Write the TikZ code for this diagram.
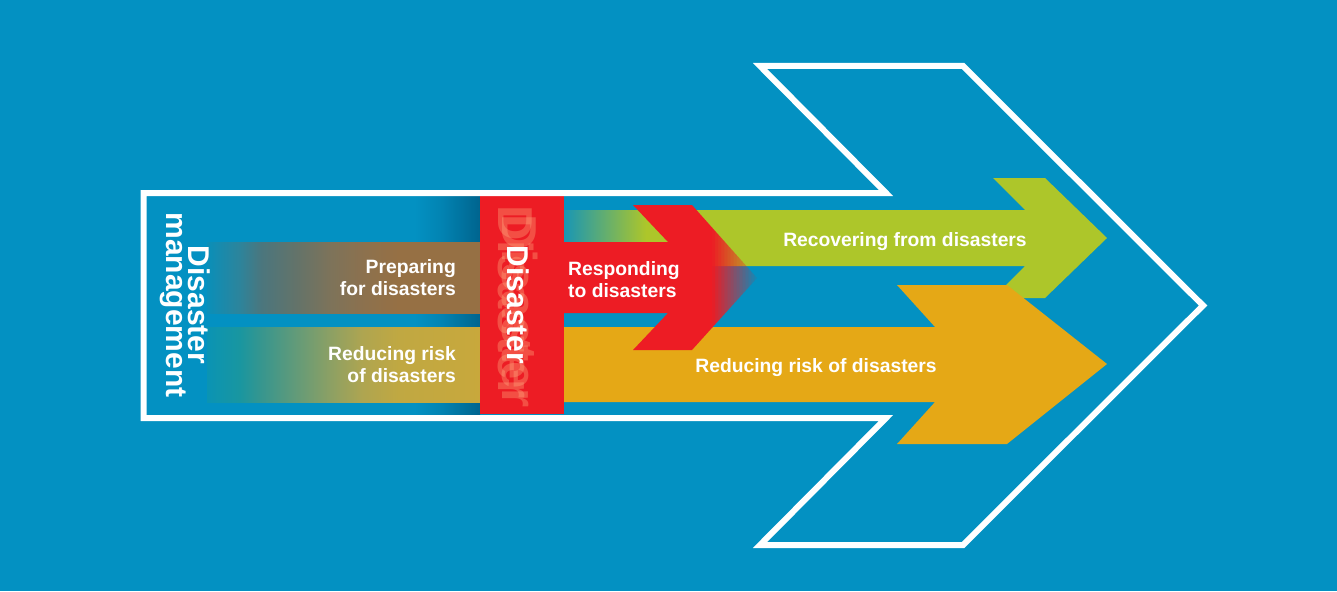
\documentclass[tikz,border=0pt]{standalone}
\usepackage{fontspec}
\setmainfont{Liberation Sans}
\definecolor{bg}{RGB}{3,145,194}
\definecolor{redc}{RGB}{237,28,36}
\definecolor{ghostc}{RGB}{255,175,130}
\definecolor{greenc}{RGB}{173,198,42}
\definecolor{greenfade}{RGB}{25,150,180}
\definecolor{orangec}{RGB}{229,168,22}
\definecolor{shadowc}{RGB}{0,100,142}
\definecolor{pa}{RGB}{10,143,185}
\definecolor{pb}{RGB}{45,132,155}
\definecolor{pc}{RGB}{75,118,125}
\definecolor{pd}{RGB}{100,115,105}
\definecolor{pe}{RGB}{125,115,90}
\definecolor{pf}{RGB}{140,113,78}
\definecolor{pg}{RGB}{150,112,68}
\definecolor{ra}{RGB}{10,148,180}
\definecolor{rb}{RGB}{25,150,160}
\definecolor{rc}{RGB}{55,150,142}
\definecolor{rd}{RGB}{100,155,120}
\definecolor{re}{RGB}{140,160,100}
\definecolor{rf}{RGB}{175,165,80}
\definecolor{rg}{RGB}{192,168,66}
\definecolor{rh}{RGB}{200,168,60}
\pgfdeclarehorizontalshading{prepshade}{100bp}{color(0bp)=(pa); color(25bp)=(pa); color(31bp)=(pb); color(35bp)=(pc); color(41.5bp)=(pd); color(47.5bp)=(pe); color(53.6bp)=(pf); color(60bp)=(pg); color(100bp)=(pg)}
\pgfdeclarehorizontalshading{redushade}{100bp}{color(0bp)=(ra); color(25bp)=(ra); color(31bp)=(rb); color(35bp)=(rc); color(41.5bp)=(rd); color(47.5bp)=(re); color(53.6bp)=(rf); color(60bp)=(rg); color(75bp)=(rh); color(100bp)=(rh)}
\pgfdeclarehorizontalshading{shadowshade}{100bp}{color(0bp)=(bg); color(25bp)=(bg); color(45bp)=(bg!70!shadowc); color(75bp)=(shadowc); color(100bp)=(shadowc)}
\tikzset{
  lbl/.style={text=white, inner sep=0pt, font=\fontsize{19.3}{22}\selectfont\bfseries},
  vlbl/.style={text=white, inner sep=0pt, rotate=-90, anchor=base, font=\fontsize{30}{30}\selectfont\bfseries},
  ghost/.style={text=ghostc, opacity=0.35, inner sep=0pt, rotate=-90, anchor=base, font=\fontsize{49}{49}\selectfont\bfseries},
  outline/.style={draw=white, line width=6pt, miter limit=10}
}
\begin{document}
\begin{tikzpicture}[x=1pt,y=-1pt]
\fill[bg] (0,0) rectangle (1337,591);
\useasboundingbox (0,0) rectangle (1337,591);
% shadow next to red bar
\shade[shading=shadowshade] (415,196) rectangle (480,414);
% left bands
\shade[shading=prepshade] (207,242) rectangle (480,313);
\shade[shading=redushade] (207,327) rectangle (480,402);
% green arrow
\fill[greenc] (564,210) -- (1025,210) -- (993,178) -- (1045,178) -- (1107,238) -- (1045,298) -- (993,298) -- (1025,266) -- (564,266) -- cycle;
\shade[left color=greenfade, right color=greenc] (564,210) rectangle (646,266);
% orange arrow
\fill[orangec] (564,327) -- (935,327) -- (897,285) -- (1007,285) -- (1107,364) -- (1007,444) -- (897,444) -- (935,402) -- (564,402) -- cycle;
% red responding arrow with fading tip
\def\redarrow{(564,242) -- (668,242) -- (633,205) -- (692,205) -- (757,278) -- (692,350) -- (633,350) -- (668,313) -- (564,313) -- cycle}
\begin{scope}
\clip (500,150) rectangle (712,400);
\fill[redc] \redarrow;
\end{scope}
\foreach \i in {0,...,15} {
  \begin{scope}
  \clip ({712+3*\i},150) rectangle ({715+3*\i},400);
  \fill[redc, opacity={1-(\i+0.5)/16}] \redarrow;
  \end{scope}
}
% red bar
\fill[redc] (480,196) rectangle (564,414);
\node[ghost] (g1) at (498,302) {Disaster};
\node[ghost] (g2) at (502,311) {Disaster};
\node[vlbl] (dis) at (507,305) {Disaster};
% outline
\draw[outline] (143.5,193) -- (886,193) -- (760,66) -- (963,66) -- (1203,305.5) -- (963,545) -- (760,545) -- (886,418) -- (143.5,418) -- cycle;
% vertical labels
\node[vlbl] (dm1) at (188,305) {Disaster};
\node[vlbl] (dm2) at (166,305) {management};
% labels
\node[lbl, anchor=base east] (p1) at (456,273) {Preparing};
\node[lbl, anchor=base east] (p2) at (456,295) {for disasters};
\node[lbl, anchor=base east] (r1) at (456,360) {Reducing risk};
\node[lbl, anchor=base east] (r2) at (456,382) {of disasters};
\node[lbl, anchor=base west] (s1) at (568,275) {Responding};
\node[lbl, anchor=base west] (s2) at (568,297) {to disasters};
\node[lbl, anchor=base] (rec) at (905,246) {Recovering from disasters};
\node[lbl, anchor=base] (red) at (816,372) {Reducing risk of disasters};
\end{tikzpicture}
\end{document}
